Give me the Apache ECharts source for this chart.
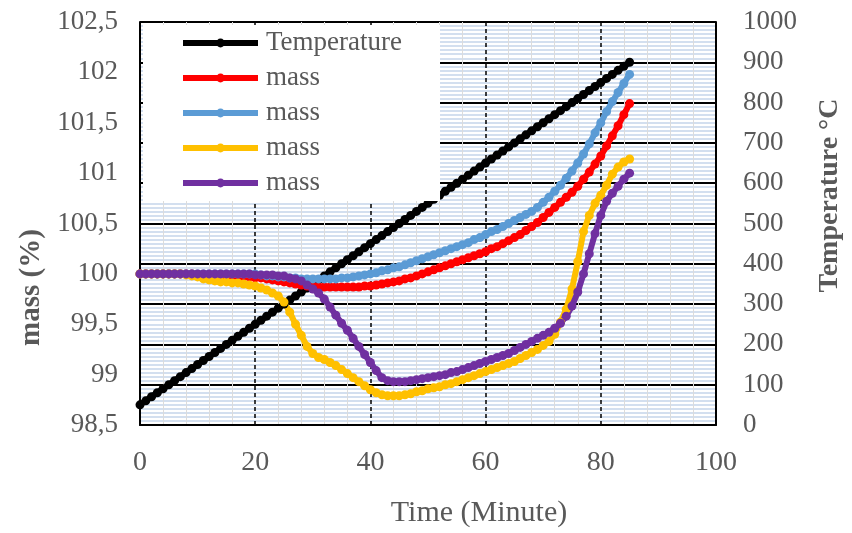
<!DOCTYPE html>
<html>
<head>
<meta charset="utf-8">
<script src="https://cdn.jsdelivr.net/npm/echarts@6/dist/echarts.min.js"></script>
<style>
html,body{margin:0;padding:0;background:#fff;}
#chart{width:852px;height:533px;}
</style>
</head>
<body>
<div id="chart"></div>
<script>
const time = [0,1,2,3,4,5,6,7,8,9,10,11,12,13,14,15,16,17,18,19,20,21,22,23,24,25,26,27,28,29,30,31,32,33,34,35,36,37,38,39,40,41,42,43,44,45,46,47,48,49,50,51,52,53,54,55,56,57,58,59,60,61,62,63,64,65,66,67,68,69,70,71,72,73,74,75,76,77,78,79,80,81,82,83,84,85];

const temperature = [50,60,70,80,90,100,110,120,130,140,150,160,170,180,190,200,210,220,230,240,250,260,270,280,290,300,310,320,330,340,350,360,370,380,390,400,410,420,430,440,450,460,470,480,490,500,510,520,530,540,550,560,570,580,590,600,610,620,630,640,650,660,670,680,690,700,710,720,730,740,750,760,770,780,790,800,810,820,830,840,850,860,870,880,890,900];

const massRed = [100.00,100.00,100.00,100.00,100.00,100.00,100.00,100.00,100.00,100.00,99.99,99.99,99.99,99.99,99.99,99.98,99.98,99.98,99.97,99.97,99.96,99.96,99.95,99.94,99.93,99.92,99.91,99.90,99.89,99.88,99.88,99.87,99.87,99.87,99.87,99.87,99.87,99.87,99.87,99.88,99.88,99.89,99.90,99.91,99.92,99.93,99.95,99.96,99.98,100.00,100.02,100.04,100.06,100.08,100.10,100.12,100.14,100.16,100.18,100.20,100.22,100.25,100.27,100.30,100.33,100.36,100.39,100.43,100.47,100.51,100.56,100.61,100.66,100.71,100.76,100.81,100.87,100.94,101.01,101.09,101.17,101.27,101.37,101.47,101.58,101.69];

const massBlue = [100.00,100.00,100.00,100.00,100.00,100.00,100.00,100.00,100.00,100.00,100.00,100.00,100.00,100.00,100.00,100.00,100.00,100.00,100.00,100.00,100.00,99.99,99.98,99.98,99.97,99.97,99.96,99.96,99.95,99.95,99.95,99.95,99.95,99.95,99.95,99.96,99.96,99.97,99.98,99.99,100.00,100.01,100.03,100.04,100.06,100.07,100.09,100.11,100.13,100.15,100.17,100.19,100.21,100.23,100.25,100.27,100.29,100.31,100.34,100.36,100.39,100.42,100.44,100.47,100.50,100.53,100.56,100.59,100.62,100.66,100.71,100.76,100.82,100.88,100.95,101.02,101.10,101.19,101.29,101.40,101.50,101.61,101.71,101.80,101.89,101.98];

const massYellow = [100.00,100.00,100.00,100.00,100.00,100.00,100.00,100.00,99.99,99.98,99.97,99.95,99.94,99.93,99.92,99.92,99.91,99.91,99.90,99.89,99.88,99.86,99.84,99.81,99.78,99.72,99.62,99.50,99.39,99.28,99.21,99.17,99.15,99.12,99.09,99.05,99.01,98.97,98.93,98.89,98.85,98.82,98.80,98.79,98.79,98.79,98.80,98.81,98.83,98.84,98.86,98.87,98.88,98.90,98.91,98.93,98.95,98.97,98.99,99.01,99.03,99.05,99.07,99.09,99.11,99.13,99.16,99.19,99.22,99.25,99.29,99.33,99.40,99.52,99.65,99.85,100.12,100.42,100.58,100.70,100.78,100.88,100.99,101.06,101.11,101.14];

const massPurple = [100.00,100.00,100.00,100.00,100.00,100.00,100.00,100.00,100.00,100.00,100.00,100.00,100.00,100.00,100.00,100.00,100.00,100.00,100.00,100.00,99.99,99.99,99.99,99.99,99.98,99.98,99.96,99.95,99.93,99.89,99.85,99.81,99.75,99.67,99.59,99.51,99.44,99.36,99.28,99.20,99.12,99.04,98.97,98.94,98.93,98.93,98.93,98.94,98.95,98.96,98.97,98.98,98.99,99.00,99.02,99.03,99.05,99.07,99.09,99.11,99.13,99.15,99.17,99.19,99.21,99.24,99.27,99.30,99.33,99.36,99.39,99.42,99.46,99.51,99.58,99.68,99.82,100.00,100.20,100.40,100.58,100.72,100.80,100.87,100.94,101.00];

// Legend labels (the four mass series share one label; invisible suffixes keep them as separate legend entries)
const legendLabels = ['Temperature','mass','mass','mass','mass'];
const seriesColors = ['#000000','#ff0000','#5b9bd5','#ffc000','#7030a0'];
const seriesKeys = legendLabels.map((n,i)=> n + '\u200b'.repeat(i));

function pairs(vals){ return time.map((t,i)=>[t, vals[i]]); }

const chart = echarts.init(document.getElementById('chart'), null, {renderer:'canvas'});
const font = '"Liberation Serif","Times New Roman",serif';
const gray = '#595959';

function lineSeries(idx, data, yIdx){
  const color = seriesColors[idx];
  return {
    name: seriesKeys[idx], type:'line', xAxisIndex:0, yAxisIndex:yIdx,
    data: pairs(data),
    symbol:'circle', symbolSize:9, showSymbol:true,
    lineStyle:{color:color, width:6},
    itemStyle:{color:color},
    animation:false
  };
}

chart.setOption({
  backgroundColor:'#ffffff',
  animation:false,
  textStyle:{fontFamily:font},
  grid:{left:140, right:131, top:22, bottom:99, containLabel:false},
  legend:{
    left:143, top:25, orient:'vertical',
    backgroundColor:'#ffffff',
    padding:[3,38,3,37],
    itemWidth:75, itemHeight:11, itemGap:5,
    lineStyle:{width:6},
    textStyle:{fontFamily:font, fontSize:27, color:gray, lineHeight:30, padding:[0,0,0,3]},
    formatter:(n)=>n.replace(/\u200b/g,''),
    data: seriesKeys.map((n)=>({name:n}))
  },
  xAxis:{
    type:'value', min:0, max:100, interval:20,
    name:'Time (Minute)', nameLocation:'middle', nameGap:73,
    nameTextStyle:{fontFamily:font, fontSize:30, color:gray, padding:[0,0,0,102]},
    axisLine:{show:true, onZero:false, lineStyle:{color:'#000', width:2}},
    axisTick:{show:false},
    axisLabel:{fontFamily:font, fontSize:28, color:gray, margin:24},
    splitLine:{show:true, lineStyle:{color:'#000', width:1.5, type:[4,3]}},
    minorTick:{show:false, splitNumber:5},
    minorSplitLine:{show:true, lineStyle:{color:'#dcdcdc', width:1}}
  },
  yAxis:[
    {
      type:'value', position:'left', min:98.5, max:102.5, interval:0.5,
      name:'mass (%)', nameLocation:'middle', nameGap:88, nameRotate:90,
      nameTextStyle:{fontFamily:font, fontSize:29, fontWeight:'bold', color:gray, padding:[0,128,0,0]},
      axisLine:{show:true, lineStyle:{color:'#000', width:2}},
      axisTick:{show:false},
      axisLabel:{fontFamily:font, fontSize:27, color:gray, margin:22,
        formatter:(v)=>String(v).replace('.',',')},
      splitLine:{show:false}
    },
    {
      type:'value', position:'right', min:0, max:1000, interval:100,
      name:'Temperature °C', nameLocation:'middle', nameGap:100, nameRotate:90,
      nameTextStyle:{fontFamily:font, fontSize:28, fontWeight:'bold', color:gray, padding:[0,0,0,56]},
      axisLine:{show:true, lineStyle:{color:'#000', width:2}},
      axisTick:{show:false},
      axisLabel:{fontFamily:font, fontSize:27, color:gray, margin:27,
        formatter:(v)=>String(v)},
      splitLine:{show:true, lineStyle:{color:'#000', width:2}},
      minorTick:{show:false, splitNumber:10},
      minorSplitLine:{show:true, lineStyle:{color:'#c5d5ea', width:1.6}}
    }
  ],
  series:[
    lineSeries(0, temperature, 1),
    lineSeries(1, massRed, 0),
    lineSeries(2, massBlue, 0),
    lineSeries(3, massYellow, 0),
    lineSeries(4, massPurple, 0)
  ]
});
</script>
</body>
</html>
